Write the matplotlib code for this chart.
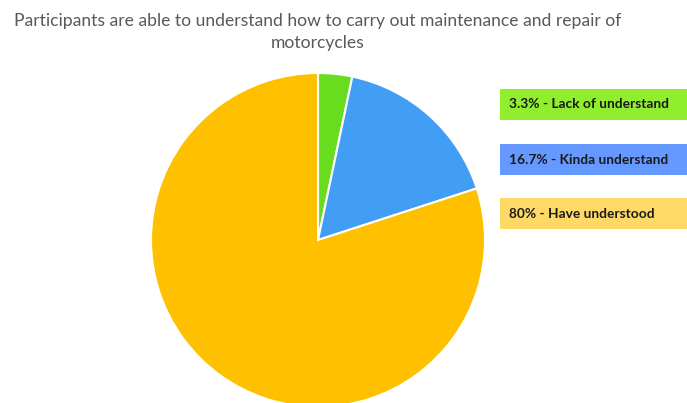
import matplotlib.pyplot as plt
from matplotlib.patches import Rectangle

TITLE = "Participants are able to understand how to carry out maintenance and repair of\nmotorcycles"
categories = ["Lack of understand", "Kinda understand", "Have understood"]
shares = [3.3, 16.7, 80]
pct_text = ["3.3%", "16.7%", "80%"]

PIE_COLORS = ["#67DD1E", "#429EF4", "#FFC000"]
BOX_COLORS = ["#90EE2E", "#6699FF", "#FFD966"]
TEXT_DARK = "#1a1a1a"

fig = plt.figure(figsize=(6.87, 4.03), dpi=100)

# pie axes placed in pixel terms: centre ~ (318, 240), radius ~ 167
ax = fig.add_axes([151 / 687, (403 - 407) / 403, 334 / 687, 334 / 403])
ax.pie(shares, colors=PIE_COLORS, startangle=90, counterclock=False,
       wedgeprops=dict(edgecolor="white", linewidth=1.5))
ax.set_xlim(-1, 1)
ax.set_ylim(-1, 1)
ax.set_aspect("equal")
ax.axis("off")

fig.text(318 / 687, 1 - 32 / 403, TITLE, ha="center", va="center",
         fontsize=12.6, color="#595959", family="Lato", linespacing=1.45)

# legend boxes on the right
box_tops = [89, 144, 198]
for i, (cat, pct) in enumerate(zip(categories, pct_text)):
    y0 = 1 - (box_tops[i] + 31) / 403
    fig.add_artist(Rectangle((500 / 687, y0), 187 / 687, 31 / 403,
                             transform=fig.transFigure, facecolor=BOX_COLORS[i],
                             edgecolor="none"))
    fig.text(509 / 687, y0 + 15.5 / 403, f"{pct} - {cat}", ha="left", va="center",
             fontsize=9.9, fontweight="bold", color=TEXT_DARK, family="Lato")

fig.savefig("out.png", dpi=100)
